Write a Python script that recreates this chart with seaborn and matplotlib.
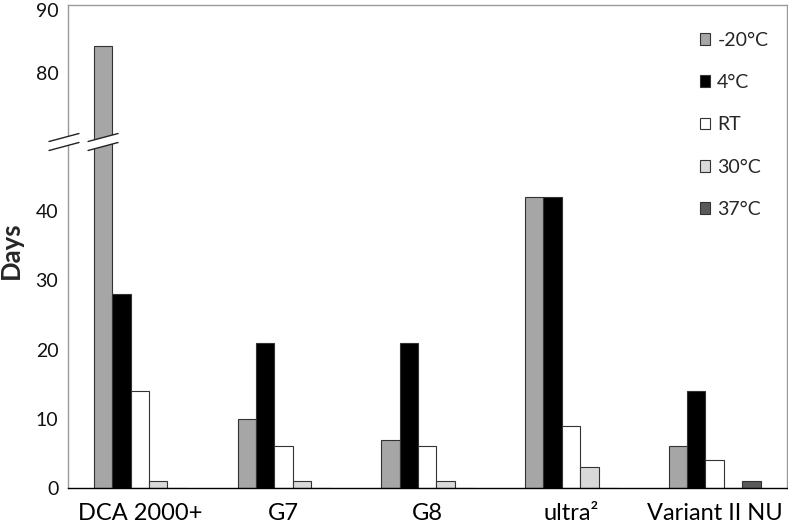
import matplotlib
matplotlib.use("Agg")
import matplotlib.pyplot as plt
import matplotlib.transforms as mtransforms
import numpy as np
import pandas as pd
import seaborn as sns
from matplotlib.patches import Patch, Polygon
from matplotlib.lines import Line2D

# ---- data ----
devices = ["DCA 2000+", "G7", "G8", "ultra²", "Variant II NU"]
temps = ["-20°C", "4°C", "RT", "30°C", "37°C"]
minus20 = [84, 10, 7, 42, 6]
plus4 = [28, 21, 21, 42, 14]
room = [14, 6, 6, 9, 4]
c30 = [1, 1, 1, 3, 0]
c37 = [0, 0, 0, 0, 1]
colors = ["#A6A6A6", "#000000", "#FFFFFF", "#D9D9D9", "#5A5A5A"]
low_ticks = [0, 10, 20, 30, 40]
high_ticks = [80, 90]

sns.set_style("white")
plt.rcParams["font.family"] = ["Lato", "DejaVu Sans"]

series = [minus20, plus4, room, c30, c37]
rows = []
for t, vals in zip(temps, series):
    for d, v in zip(devices, vals):
        rows.append({"device": d, "temp": t, "days": v})
df = pd.DataFrame(rows)
palette = dict(zip(temps, colors))

W, H = 788, 528
fig = plt.figure(figsize=(W / 100, H / 100), dpi=100)

def fx(x):
    return x / W

def fy(y):
    return 1 - y / H

L, R = fx(68), fx(786.5)
top_y, split_y, bot_y = 5, 142, 488
ax_top = fig.add_axes([L, fy(split_y), R - L, fy(top_y) - fy(split_y)])
ax_bot = fig.add_axes([L, fy(bot_y), R - L, fy(split_y) - fy(bot_y)])

gray = "#9A9A9A"
for ax in (ax_top, ax_bot):
    sns.barplot(data=df, x="device", y="days", hue="temp", order=devices,
                hue_order=temps, palette=palette, width=0.64,
                edgecolor="#333333", linewidth=0.8, legend=False, ax=ax,
                saturation=1)
    ax.set_xlim(-0.5, 4.5)
    ax.set_xlabel("")
    ax.set_ylabel("")
    for s in ("left", "right", "top"):
        ax.spines[s].set_color(gray)
        ax.spines[s].set_linewidth(1.0)
    ax.tick_params(axis="y", direction="out", length=5, width=0.8,
                   color=gray, labelsize=14, pad=2, labelcolor="#111111")

ax_top.set_ylim(70, 90)
ax_bot.set_ylim(0, 50)
ax_top.set_yticks(high_ticks)
ax_bot.set_yticks(low_ticks)
ax_top.spines["bottom"].set_visible(False)
ax_bot.spines["top"].set_visible(False)
ax_top.set_xticks([])
ax_bot.spines["bottom"].set_color("#000000")
ax_bot.spines["bottom"].set_linewidth(1.0)
ax_bot.set_xticks(range(len(devices)))
ax_bot.set_xticklabels(devices)
ax_bot.set_xticks(np.arange(-0.5, len(devices), 1.0), minor=True)
ax_bot.tick_params(axis="x", which="major", length=0, labelsize=17, pad=11,
                   labelcolor="#000000")
ax_bot.tick_params(axis="x", which="minor", direction="out", length=10,
                   width=0.8, color="#333333")

# keep the topmost tick label inside the image (as in the reference)
fig.canvas.draw()
top_lbl = ax_top.get_yticklabels()[-1]
top_lbl.set_transform(top_lbl.get_transform() +
                      mtransforms.ScaledTranslation(0, -5 / 100, fig.dpi_scale_trans))

# ---- axis break marks ----
def break_band(xc, half=15, gap=4.5, slope=8 / 30):
    yc = split_y
    x0, x1 = xc - half, xc + half
    ya0 = yc - gap + slope * half
    ya1 = yc - gap - slope * half
    yb0 = yc + gap + slope * half
    yb1 = yc + gap - slope * half
    poly = Polygon([(fx(x0), fy(ya0)), (fx(x1), fy(ya1)),
                    (fx(x1), fy(yb1)), (fx(x0), fy(yb0))],
                   closed=True, facecolor="white", edgecolor="none",
                   transform=fig.transFigure, zorder=20)
    fig.add_artist(poly)
    for (a, b) in ((ya0, ya1), (yb0, yb1)):
        fig.add_artist(Line2D([fx(x0), fx(x1)], [fy(a), fy(b)],
                              transform=fig.transFigure, color="#222222",
                              linewidth=1.0, zorder=21))

break_band(64)
tall = max(ax_top.patches, key=lambda p: p.get_height())
bx0 = ax_top.transData.transform((tall.get_x(), 0))[0]
bx1 = ax_top.transData.transform((tall.get_x() + tall.get_width(), 0))[0]
break_band((bx0 + bx1) / 2)

# ---- legend ----
handles = [Patch(facecolor=c, edgecolor="#333333", linewidth=0.8) for c in colors]
fig.legend(handles, temps, loc="upper left", bbox_to_anchor=(fx(692), fy(24)),
           frameon=False, fontsize=14, handlelength=0.55, handleheight=0.55,
           handletextpad=0.35, labelspacing=1.3, borderaxespad=0)

fig.text(fx(11), fy(250), "Days", rotation=90, fontweight="bold",
         fontsize=18.5, ha="center", va="center")

fig.savefig("out.png", dpi=100)
